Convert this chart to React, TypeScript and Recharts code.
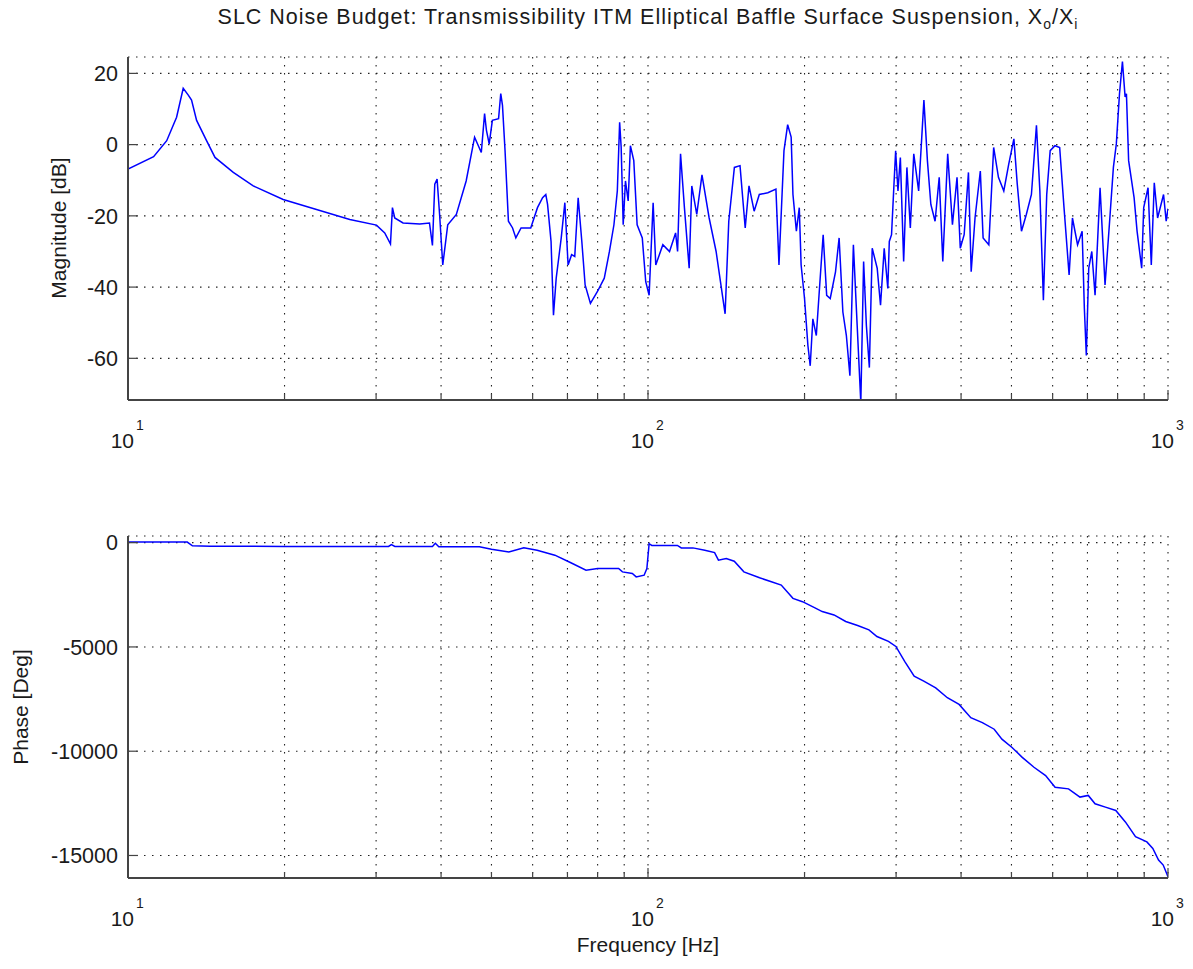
import React from 'react';
import { LineChart, Line, XAxis, YAxis, CartesianGrid } from 'recharts';

// frequency grid (log axis), labels only on decades
const freqTicks = [10, 20, 30, 40, 50, 60, 70, 80, 90, 100, 200, 300, 400, 500, 600, 700, 800, 900, 1000];
const decadeTicks = [10, 100, 1000];
const magTicks = [-60, -40, -20, 0, 20];
const phaseTicks = [-15000, -10000, -5000, 0];

// magnitude trace
const magFreq = [
  10, 11.2, 11.87, 12.4, 12.77, 13.06, 13.25, 13.55, 14.16, 14.7, 15.94, 17.41, 19.88, 23.04, 26.7, 30.05,
  31.17, 31.97, 32.25, 32.58, 33.8, 36.4, 38.0, 38.5, 38.9, 39.3, 39.74, 40.3, 41.2, 42.8, 44.7, 46.4,
  47.8, 48.5, 48.9, 49.5, 50.2, 51.6, 52.1, 52.5, 53.1, 53.9, 54.9, 55.7, 57.0, 59.5, 61.3, 62.7,
  63.6, 64.1, 65.1, 65.8, 66.6, 68.1, 69.2, 70.2, 71.3, 72.3, 73.4, 74.6, 75.7, 77.5, 79.9, 82.4,
  84.3, 86.0, 87.3, 88.2, 88.8, 89.6, 90.5, 91.6, 92.5, 93.9, 95.3, 97.5, 99.0, 100.5, 102.3, 103.5,
  106.8, 110, 113.0, 114, 115.5, 117.5, 120.0, 121.4, 124.1, 127.0, 131.1, 135.2, 140.7, 143.0, 146.6, 150.3,
  153.8, 156.4, 160, 163.7, 170, 176.2, 178.6, 182.6, 185.6, 188.5, 190, 192.9, 195.4, 197, 200, 203,
  205.1, 207.5, 210.7, 213.9, 217.2, 220.6, 224.1, 229.4, 233.1, 237, 240.7, 244.5, 248.3, 252.5, 256.6, 259.8,
  263, 266.5, 269.9, 275.9, 280, 284.6, 289.2, 291.1, 294, 297.2, 299.4, 302.5, 305.7, 310.2, 314.7, 319.5,
  324.4, 331.5, 339.3, 344.6, 349.9, 356.5, 363.1, 368.9, 377.0, 385, 392.9, 398.6, 405.5, 413.3, 418.3, 425.5,
  435.6, 441, 452.3, 462.1, 472, 483.3, 494, 505.4, 513, 522.7, 534, 546.2, 558.5, 567, 575.9, 584.5,
  593.5, 606.2, 619, 631, 645.4, 655, 670, 683.7, 690.5, 696.5, 704, 713.6, 724, 740.2, 756.7, 773,
  785.2, 795.5, 806.7, 817.3, 827, 831.9, 840, 860.6, 872, 890, 898, 915.4, 928.7, 941, 955, 980.5,
  992, 1000,
];
const magDb = [
  -6.9, -3.4, 1.1, 7.7, 15.8, 13.9, 12.5, 6.8, 1.1, -3.6, -7.8, -11.6, -15.4, -18.2, -21.0, -22.6,
  -24.8, -27.9, -17.7, -20.6, -22.0, -22.3, -22.0, -28.3, -11.1, -9.7, -19.6, -33.8, -22.5, -19.6, -10.2, 2.1,
  -2.2, 8.7, 4.0, 0.2, 6.8, 7.3, 14.3, 11.0, -1.7, -21.5, -23.4, -26.2, -23.4, -23.4, -17.7, -14.9,
  -14.0, -16.8, -27.2, -47.9, -37.5, -26.2, -16.3, -33.8, -30.9, -31.4, -14.9, -27.2, -39.4, -44.6, -41.3, -37.5,
  -30.0, -22.5, -13.0, 6.3, -0.8, -22.5, -10.2, -15.8, -0.3, -4.5, -22.5, -26.2, -38.5, -42.3, -16.3, -33.8,
  -28.1, -30.0, -24.8, -30.0, -2.6, -17.7, -34.7, -11.6, -19.6, -8.5, -20.6, -30.0, -47.5, -21.5, -6.4, -5.9,
  -23.4, -11.6, -18.7, -14.0, -13.5, -12.5, -33.8, -1.7, 5.6, 2.1, -14.0, -24.3, -17.7, -33.8, -43.2, -56.4,
  -62.1, -48.9, -53.6, -39.4, -25.3, -42.3, -43.2, -35.7, -26.2, -47, -53.6, -64.9, -28.1, -50.8, -72.5, -32.8,
  -50.8, -62.6, -29.1, -34.7, -45.1, -29.1, -40.4, -27.2, -25.3, -11.1, -1.7, -13.0, -3.6, -32.8, -6.4, -23.4,
  -2.6, -13.0, 12.5, -4.5, -16.8, -21.5, -9.2, -32.8, -2.6, -22.5, -9.2, -29.1, -25.3, -7.8, -35.7, -20.6,
  -7.4, -26.2, -28.1, -0.8, -9.2, -13.0, -5.5, 1.6, -11.1, -24.3, -19.6, -14.0, 5.4, -13.0, -43.7, -14.0,
  -1.7, -0.3, -0.8, -17.7, -36.6, -20.6, -28.1, -24.3, -46.0, -59.2, -34.7, -30.0, -42.3, -12.1, -39.4, -20.6,
  -6.4, 0.2, 14.3, 23.3, 13.4, 14.3, -4.5, -14.9, -24.3, -34.7, -17.7, -12.1, -33.8, -10.7, -20.6, -14.0,
  -21.5, -18,
];

// phase trace
const phaseFreq = [
  10, 13.0, 13.3, 14.4, 20, 31.7, 32.1, 32.6, 38.5, 39.0, 39.6, 47.4, 50, 54.0, 57.7, 61.2,
  66.2, 70.9, 76.0, 80, 87.8, 89.3, 93.3, 94.9, 98.3, 99.5, 100.5, 101.7, 113.9, 115.9, 122.0, 128.6,
  134.3, 136.6, 141.4, 146.5, 152.9, 163.9, 172.7, 180.4, 190.0, 198.2, 209, 216.3, 227.9, 240, 253, 266,
  275.6, 290.0, 299.7, 311.6, 325.0, 339.1, 357.5, 376.4, 396.5, 417.6, 439.5, 463.2, 479.3, 501.3, 524.5, 552.4,
  581.6, 606.5, 643.7, 677.2, 702.5, 724, 758, 793.6, 828, 866, 910.7, 935, 959, 979, 1000,
];
const phaseDeg = [
  30, 30, -150, -170, -180, -180, -90, -180, -180, -30, -200, -200, -320, -445, -240, -365,
  -600, -950, -1320, -1240, -1240, -1400, -1480, -1640, -1560, -1240, -50, -130, -130, -250, -250, -365,
  -475, -840, -760, -890, -1400, -1685, -1875, -2035, -2670, -2830, -3115, -3305, -3465, -3780, -3970, -4180,
  -4500, -4735, -4975, -5690, -6400, -6640, -6960, -7435, -7755, -8390, -8630, -8945, -9420, -9820, -10295, -10770,
  -11170, -11725, -11805, -12200, -12120, -12520, -12680, -12840, -13390, -14100, -14350, -14665, -15220, -15460, -16015,
];

const magData = magFreq.map((f, i) => ({ f, v: magDb[i] }));
const phaseData = phaseFreq.map((f, i) => ({ f, v: phaseDeg[i] }));

const FONT = '"Liberation Sans", Arial, Helvetica, sans-serif';
const TXT = '#1a1a1a';
const BOX = '#444';

const BottomTick = (props: any) => {
  const { x, y, payload } = props;
  const major = decadeTicks.includes(payload.value);
  const exp = Math.round(Math.log10(payload.value));
  return (
    <g>
      <line x1={x} x2={x} y1={y} y2={y - (major ? 10 : 6)} stroke={BOX} strokeWidth={1.2} />
      {major && (
        <text x={x + 6} y={y + 48} textAnchor="end" fontSize={21} fontFamily={FONT} fill={TXT}>10</text>
      )}
      {major && (
        <text x={x + 8} y={y + 30} textAnchor="start" fontSize={14} fontFamily={FONT} fill={TXT}>{exp}</text>
      )}
    </g>
  );
};

const TopTick = (props: any) => {
  const { x, y, payload } = props;
  const major = decadeTicks.includes(payload.value);
  return <line x1={x} x2={x} y1={y} y2={y + (major ? 10 : 6)} stroke={BOX} strokeWidth={1.2} />;
};

const LeftTick = (props: any) => {
  const { x, y, payload } = props;
  return (
    <g>
      <line x1={x} x2={x + 10} y1={y} y2={y} stroke={BOX} strokeWidth={1.2} />
      <text x={x - 10} y={y} dy="0.36em" textAnchor="end" fontSize={21.5} fontFamily={FONT} fill={TXT}>
        {payload.value}
      </text>
    </g>
  );
};

const RightTick = (props: any) => {
  const { x, y } = props;
  return <line x1={x} x2={x - 10} y1={y} y2={y} stroke={BOX} strokeWidth={1.2} />;
};

type PanelProps = {
  data: { f: number; v: number }[];
  domain: [number, number];
  ticks: number[];
  top: number;
  marginTop: number;
  axisHeight: number;
};

function Panel({ data, domain, ticks, top, marginTop, axisHeight }: PanelProps) {
  return (
    <div style={{ position: 'absolute', left: 0, top }}>
      <LineChart width={1193} height={470} data={data} margin={{ top: marginTop, right: 25, bottom: 0, left: 0 }}>
        <CartesianGrid stroke="#222" strokeDasharray="1.5 6.5" strokeWidth={1.1} />
        <XAxis
          dataKey="f"
          type="number"
          scale="log"
          domain={[10, 1000]}
          ticks={freqTicks}
          allowDataOverflow
          height={axisHeight}
          tickSize={0}
          tickMargin={0}
          tick={<BottomTick />}
          axisLine={{ stroke: BOX, strokeWidth: 2 }}
          tickLine={false}
          interval={0}
        />
        <XAxis
          xAxisId="t"
          orientation="top"
          dataKey="f"
          type="number"
          scale="log"
          domain={[10, 1000]}
          ticks={freqTicks}
          allowDataOverflow
          height={0}
          tickSize={0}
          tickMargin={0}
          tick={<TopTick />}
          axisLine={{ stroke: BOX, strokeWidth: 2 }}
          tickLine={false}
          interval={0}
        />
        <YAxis
          type="number"
          domain={domain}
          ticks={ticks}
          allowDataOverflow
          width={128}
          tickSize={0}
          tickMargin={0}
          tick={<LeftTick />}
          axisLine={{ stroke: BOX, strokeWidth: 2 }}
          tickLine={false}
          interval={0}
        />
        <YAxis
          yAxisId="r"
          orientation="right"
          type="number"
          domain={domain}
          ticks={ticks}
          allowDataOverflow
          width={0}
          tickSize={0}
          tickMargin={0}
          tick={<RightTick />}
          axisLine={{ stroke: BOX, strokeWidth: 2 }}
          tickLine={false}
          interval={0}
        />
        <Line
          dataKey="v"
          type="linear"
          stroke="#0000ff"
          strokeWidth={1.5}
          dot={false}
          isAnimationActive={false}
        />
      </LineChart>
    </div>
  );
}

export default function App() {
  return (
    <div style={{ position: 'absolute', left: 0, top: 0, width: 1193, height: 969, background: '#fff' }}>
      <Panel data={magData} domain={[-71.7, 24.6]} ticks={magTicks} top={0} marginTop={57} axisHeight={70} />
      <Panel data={phaseData} domain={[-16080, 320]} ticks={phaseTicks} top={480} marginTop={56} axisHeight={72} />
      <svg width={1193} height={969} style={{ position: 'absolute', left: 0, top: 0, pointerEvents: 'none' }}>
        <text
          x={648}
          y={24}
          textAnchor="middle"
          fontSize={21.5}
          letterSpacing={1}
          fontFamily={FONT}
          fill={TXT}
        >
          SLC Noise Budget: Transmissibility ITM Elliptical Baffle Surface Suspension, X
          <tspan dy={5} fontSize={14}>o</tspan>
          <tspan dy={-5}>/X</tspan>
          <tspan dy={5} fontSize={14}>i</tspan>
        </text>
        <text
          x={58}
          y={228}
          transform="rotate(-90 58 228)"
          textAnchor="middle"
          dy="0.36em"
          fontSize={21}
          fontFamily={FONT}
          fill={TXT}
        >
          Magnitude [dB]
        </text>
        <text
          x={20}
          y={707}
          transform="rotate(-90 20 707)"
          textAnchor="middle"
          dy="0.36em"
          fontSize={21}
          fontFamily={FONT}
          fill={TXT}
        >
          Phase [Deg]
        </text>
        <text x={648} y={952} textAnchor="middle" fontSize={21} fontFamily={FONT} fill={TXT}>
          Frequency [Hz]
        </text>
      </svg>
    </div>
  );
}
